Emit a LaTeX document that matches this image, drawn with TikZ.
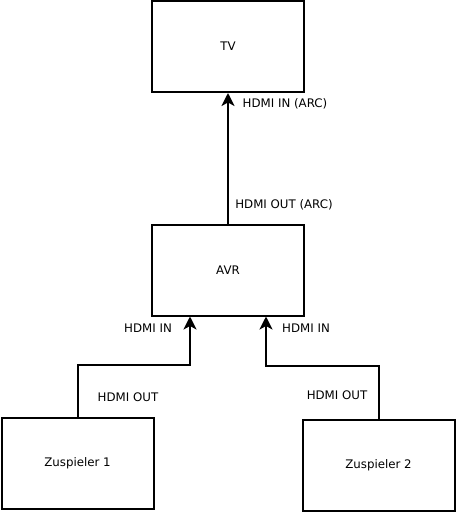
\documentclass[tikz,border=0pt]{standalone}
\usepackage{fontspec}
\newfontfamily\diafont{DejaVu Sans}
\usetikzlibrary{arrows.meta}

\begin{document}
\begin{tikzpicture}[
  x=1pt, y=1pt,
  line join=miter,
  every node/.style={font=\diafont\fontsize{11.8}{13}\selectfont},
  device/.style={draw, line width=2pt, minimum width=152pt, minimum height=91pt},
  link/.style={line width=2pt, -{Stealth[length=13pt, width=13pt, inset=3.5pt]}},
  lbl/.style={inner sep=1pt}
]
  % Rahmen des Bildes
  \useasboundingbox (0,0) rectangle (458,-512);

  % Geraete
  \node[device] (tv)   at (228,-46.5) {TV};
  \node[device] (avr)  at (228,-270)  {AVR};
  \node[device] (zsp1) at (77.5,-463) {Zuspieler 1};
  \node[device] (zsp2) at (378.5,-465) {Zuspieler 2};

  % Eingaenge am AVR
  \coordinate (in1) at ([xshift=-38pt]avr.south);
  \coordinate (in2) at ([xshift=38pt]avr.south);

  % Verbindungen
  \draw[link] (avr.north) -- (tv.south);
  \draw[link] (zsp1.north) -- ++(0,51.5) -| (in1);
  \draw[link] (zsp2.north) -- ++(0,52.5) -| (in2);

  % Beschriftungen
  \node[lbl] (tvin)   at (285,-104) {HDMI IN (ARC)};
  \node[lbl] (avrout) at (284,-205) {HDMI OUT (ARC)};
  \node[lbl] (in1l)   at (148,-328) {HDMI IN};
  \node[lbl] (in2l)   at (306,-328) {HDMI IN};
  \node[lbl] (out1l)  at (128,-397) {HDMI OUT};
  \node[lbl] (out2l)  at (337,-395) {HDMI OUT};
\end{tikzpicture}
\end{document}
